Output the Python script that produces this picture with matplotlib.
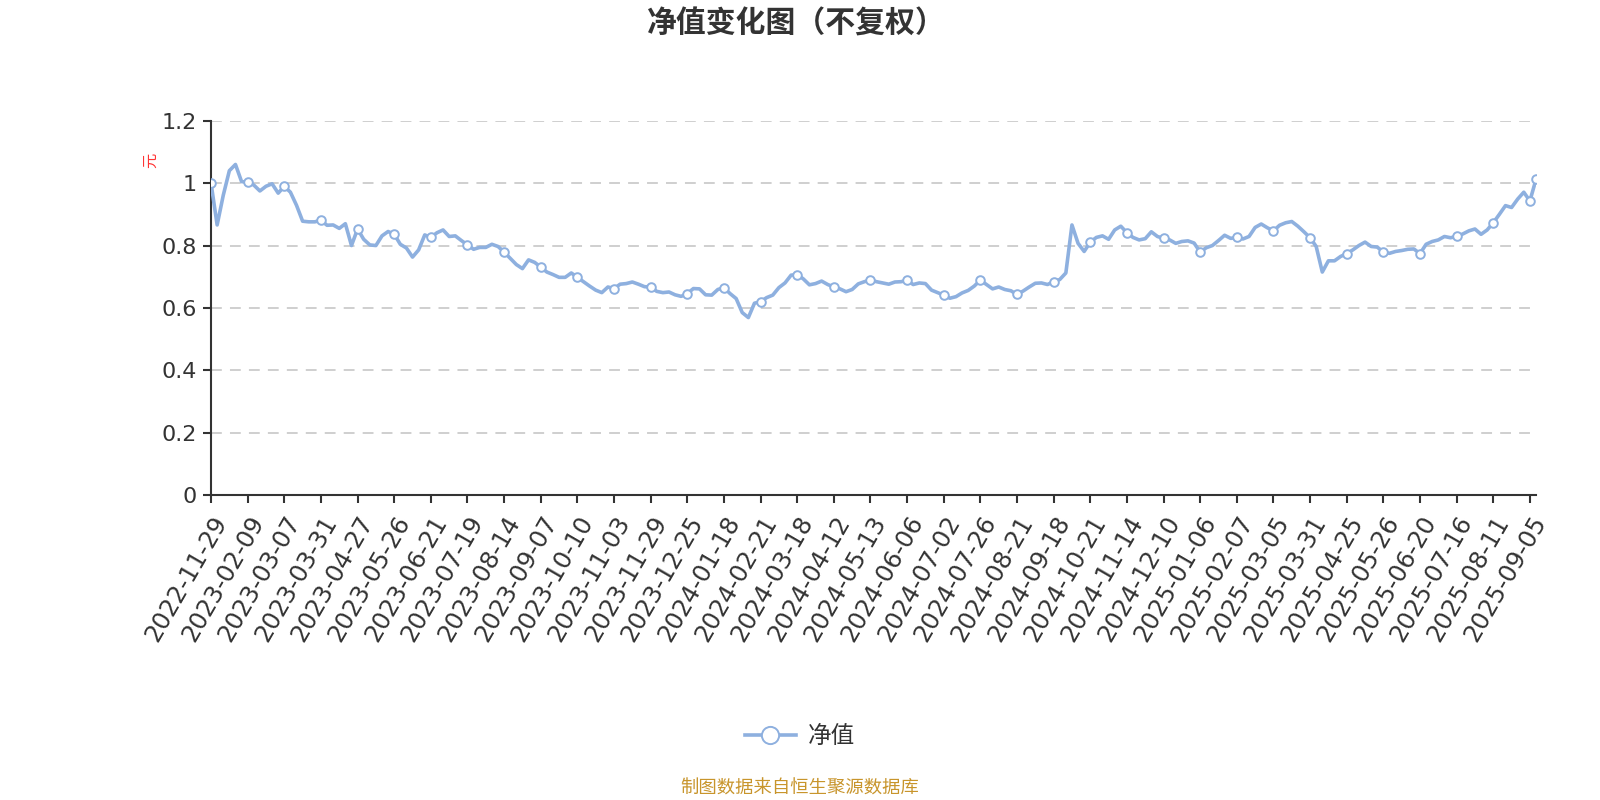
import numpy as np
import matplotlib
matplotlib.use("Agg")
import matplotlib.pyplot as plt

plt.rcParams['font.family'] = ['Noto Sans CJK SC', 'DejaVu Sans']

# x axis labels, one every 6 sampled points (every 18 trading days)
tick_dates = ["2022-11-29", "2023-02-09", "2023-03-07", "2023-03-31", "2023-04-27", "2023-05-26",
              "2023-06-21", "2023-07-19", "2023-08-14", "2023-09-07", "2023-10-10", "2023-11-03",
              "2023-11-29", "2023-12-25", "2024-01-18", "2024-02-21", "2024-03-18", "2024-04-12",
              "2024-05-13", "2024-06-06", "2024-07-02", "2024-07-26", "2024-08-21", "2024-09-18",
              "2024-10-21", "2024-11-14", "2024-12-10", "2025-01-06", "2025-02-07", "2025-03-05",
              "2025-03-31", "2025-04-25", "2025-05-26", "2025-06-20", "2025-07-16", "2025-08-11",
              "2025-09-05"]

# net value, every 3 trading days
nav = [1.000, 0.866, 0.961, 1.040, 1.060, 1.005,
       1.003, 0.994, 0.975, 0.990, 0.998, 0.968,
       0.990, 0.971, 0.929, 0.878, 0.876, 0.876,
       0.881, 0.865, 0.866, 0.855, 0.870, 0.800,
       0.853, 0.820, 0.802, 0.800, 0.831, 0.845,
       0.836, 0.804, 0.792, 0.763, 0.786, 0.834,
       0.826, 0.841, 0.850, 0.829, 0.831, 0.816,
       0.802, 0.788, 0.794, 0.794, 0.804, 0.797,
       0.779, 0.759, 0.739, 0.726, 0.754, 0.746,
       0.731, 0.715, 0.707, 0.698, 0.698, 0.712,
       0.698, 0.684, 0.670, 0.657, 0.649, 0.667,
       0.662, 0.676, 0.678, 0.683, 0.676, 0.668,
       0.667, 0.653, 0.649, 0.651, 0.642, 0.637,
       0.646, 0.662, 0.661, 0.642, 0.641, 0.659,
       0.665, 0.646, 0.630, 0.585, 0.569, 0.615,
       0.620, 0.633, 0.641, 0.665, 0.680, 0.705,
       0.707, 0.693, 0.674, 0.678, 0.686, 0.675,
       0.667, 0.661, 0.652, 0.659, 0.677, 0.684,
       0.689, 0.684, 0.680, 0.676, 0.683, 0.684,
       0.688, 0.675, 0.680, 0.678, 0.657, 0.649,
       0.641, 0.631, 0.636, 0.648, 0.656, 0.670,
       0.689, 0.675, 0.661, 0.667, 0.659, 0.655,
       0.643, 0.654, 0.667, 0.679, 0.680, 0.675,
       0.684, 0.691, 0.712, 0.866, 0.807, 0.781,
       0.811, 0.826, 0.831, 0.820, 0.850, 0.862,
       0.841, 0.826, 0.818, 0.822, 0.844, 0.829,
       0.823, 0.818, 0.807, 0.813, 0.815, 0.808,
       0.779, 0.793, 0.800, 0.816, 0.833, 0.823,
       0.826, 0.821, 0.829, 0.858, 0.869, 0.857,
       0.847, 0.865, 0.873, 0.877, 0.862, 0.844,
       0.825, 0.797, 0.715, 0.751, 0.751, 0.765,
       0.774, 0.786, 0.800, 0.811, 0.797, 0.795,
       0.779, 0.775, 0.781, 0.784, 0.788, 0.789,
       0.774, 0.804, 0.813, 0.818, 0.829, 0.825,
       0.829, 0.837, 0.847, 0.853, 0.836, 0.850,
       0.873, 0.900, 0.928, 0.922, 0.949, 0.971,
       0.943, 1.012]

line_color = "#8eb0df"
step = 6

fig = plt.figure(figsize=(16, 8), dpi=100)
ax = fig.add_axes([0.1319, 0.38125, 0.9600 - 0.1319, 0.849 - 0.38125])

x = np.arange(len(nav))
marks = list(range(0, len(nav) - 1, step)) + [len(nav) - 1]
ax.plot(x, nav, color=line_color, lw=2.6, marker="o", markevery=marks,
        markersize=6.2, markerfacecolor="white", markeredgecolor=line_color,
        markeredgewidth=1.4, label="净值", zorder=3)

ax.set_xlim(0, len(nav) - 1)
ax.set_ylim(0, 1.2)
ax.set_yticks([0, 0.2, 0.4, 0.6, 0.8, 1.0, 1.2])
ax.set_yticklabels(["0", "0.2", "0.4", "0.6", "0.8", "1", "1.2"], family="DejaVu Sans")
ax.set_xticks(np.arange(0, len(tick_dates) * step, step))
ax.set_xticklabels(tick_dates, rotation=60, ha="right", rotation_mode="anchor",
                   family="DejaVu Sans")

for y in [0.2, 0.4, 0.6, 0.8, 1.0, 1.2]:
    ax.axhline(y, color="#cccccc", lw=1.3, ls=(0, (6, 4.5)), zorder=1)

for s in ["top", "right"]:
    ax.spines[s].set_visible(False)
for s in ["left", "bottom"]:
    ax.spines[s].set_color("#333333")
    ax.spines[s].set_linewidth(1.5)
ax.tick_params(axis="both", colors="#333333", length=6, width=1.5)
ax.tick_params(axis="x", pad=6, labelsize=17.5)
ax.tick_params(axis="y", pad=4, labelsize=16)

ax.text(-0.046, 0.895, "元", transform=ax.transAxes, rotation=90, color="#ff3333",
        fontsize=11, ha="center", va="center")

fig.text(0.498, 0.971, "净值变化图（不复权）", ha="center", va="center",
         fontsize=21.5, fontweight="bold", color="#333333")

leg = fig.legend(loc="center", bbox_to_anchor=(0.50, 0.079), frameon=False,
                 fontsize=17, handlelength=2.2, handletextpad=0.5, markerscale=2.0)
for t in leg.get_texts():
    t.set_color("#333333")

fig.text(0.50, 0.014, "制图数据来自恒生聚源数据库", ha="center", va="center",
         fontsize=13.2, color="#c8952c")

fig.savefig("out.png", dpi=100)
